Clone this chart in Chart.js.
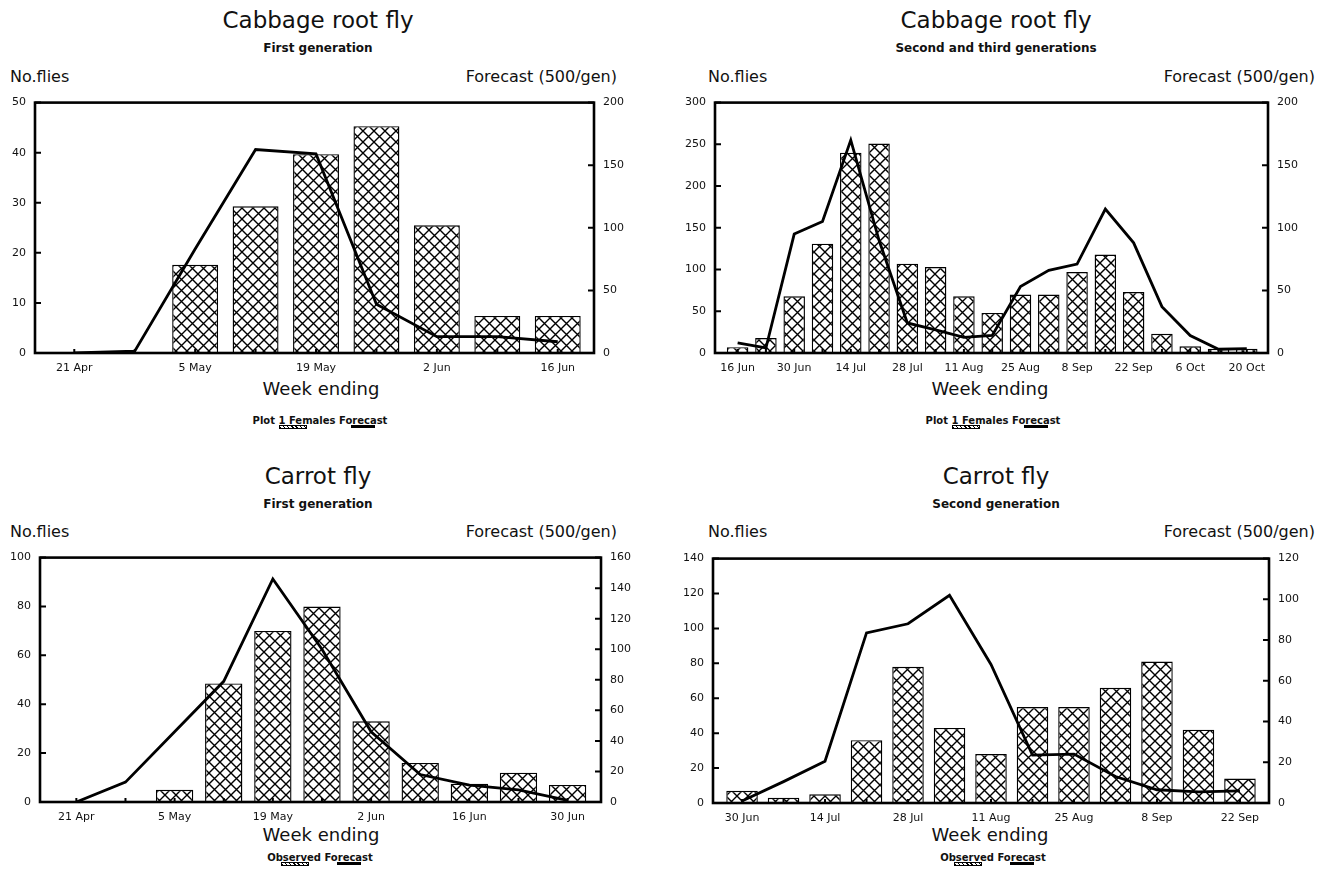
<!DOCTYPE html>
<html>
<head>
<meta charset="utf-8">
<script src="https://cdn.jsdelivr.net/npm/chart.js@4.4.0/dist/chart.umd.min.js"></script>
<style>
  html, body { margin: 0; padding: 0; background: #fff; }
  body { width: 1319px; height: 883px; position: relative; overflow: hidden;
         font-family: "DejaVu Sans", sans-serif; color: #111; }
  .t { position: absolute; line-height: 1; white-space: nowrap; }
  .title { font-size: 23px; width: 400px; text-align: center; }
  .sub { font-size: 12px; font-weight: bold; width: 400px; text-align: center; }
  .ax { font-size: 16px; }
  .xt { font-size: 18px; width: 300px; text-align: center; }
  .leg { font-size: 10px; font-weight: bold; width: 300px; text-align: center; }
  .leg span { position: relative; }
  .sw { position: absolute; top: 10px; height: 2px; }
  .sw.hatch { left: 0; width: 26px; border: 1px solid #000;
              background: repeating-linear-gradient(45deg, #000 0 1px, #fff 1px 3px); }
  .sw.line { left: 50%; width: 24px; margin-left: -12px; background: #000; height: 3px; }
  canvas { position: absolute; }
</style>
</head>
<body>

<!-- top left -->
<div class="t title" style="left:118px;top:8.5px">Cabbage root fly</div>
<div class="t sub" style="left:118px;top:42px">First generation</div>
<div class="t ax" style="left:10px;top:68.5px">No.flies</div>
<div class="t ax" style="right:702px;top:68.5px">Forecast (500/gen)</div>
<div class="t xt" style="left:171px;top:380px">Week ending</div>
<div class="t leg" style="left:170px;top:415.5px">Plot <span>1 Females<i class="sw hatch"></i></span> <span>Forecast<i class="sw line"></i></span></div>
<canvas id="c1" width="640" height="300" style="left:0;top:87px"></canvas>

<!-- top right -->
<div class="t title" style="left:796px;top:8.5px">Cabbage root fly</div>
<div class="t sub" style="left:796px;top:42px">Second and third generations</div>
<div class="t ax" style="left:708px;top:68.5px">No.flies</div>
<div class="t ax" style="right:4px;top:68.5px">Forecast (500/gen)</div>
<div class="t xt" style="left:840px;top:380px">Week ending</div>
<div class="t leg" style="left:843px;top:415.5px">Plot <span>1 Females<i class="sw hatch"></i></span> <span>Forecast<i class="sw line"></i></span></div>
<canvas id="c2" width="659" height="300" style="left:660px;top:87px"></canvas>

<!-- bottom left -->
<div class="t title" style="left:118px;top:464.5px">Carrot fly</div>
<div class="t sub" style="left:118px;top:498px">First generation</div>
<div class="t ax" style="left:10px;top:523.5px">No.flies</div>
<div class="t ax" style="right:702px;top:523.5px">Forecast (500/gen)</div>
<div class="t xt" style="left:171px;top:826px">Week ending</div>
<div class="t leg" style="left:170px;top:852.5px"><span>Observed<i class="sw hatch" style="left:50%;margin-left:-13px"></i></span> <span>Forecast<i class="sw line"></i></span></div>
<canvas id="c3" width="640" height="300" style="left:0;top:542px"></canvas>

<!-- bottom right -->
<div class="t title" style="left:796px;top:464.5px">Carrot fly</div>
<div class="t sub" style="left:796px;top:498px">Second generation</div>
<div class="t ax" style="left:708px;top:523.5px">No.flies</div>
<div class="t ax" style="right:4px;top:523.5px">Forecast (500/gen)</div>
<div class="t xt" style="left:840px;top:826px">Week ending</div>
<div class="t leg" style="left:843px;top:852.5px"><span>Observed<i class="sw hatch" style="left:50%;margin-left:-13px"></i></span> <span>Forecast<i class="sw line"></i></span></div>
<canvas id="c4" width="659" height="300" style="left:660px;top:543px"></canvas>

<script>
// Cabbage root fly, first generation
const crf1Weeks = ['21 Apr', '28 Apr', '5 May', '12 May', '19 May', '26 May', '2 Jun', '9 Jun', '16 Jun'];
const crf1Females = [0, 0, 17.6, 29.3, 39.7, 45.3, 25.5, 7.4, 7.4];
const crf1Forecast = [0, 1.5, 83, 162.5, 159, 39, 13, 13, 9];

// Cabbage root fly, second and third generations
const crf2Weeks = ['16 Jun', '23 Jun', '30 Jun', '7 Jul', '14 Jul', '21 Jul', '28 Jul', '4 Aug', '11 Aug', '18 Aug',
                   '25 Aug', '1 Sep', '8 Sep', '15 Sep', '22 Sep', '29 Sep', '6 Oct', '13 Oct', '20 Oct'];
const crf2Females = [7, 18, 68, 131, 240, 251, 107, 103, 68, 48, 70, 70, 97, 118, 73, 23, 8, 5, 5];
const crf2Forecast = [8, 4, 95, 105, 170, 90, 24, 18.5, 12.5, 14, 53, 66, 71, 115, 88, 37, 14, 3, 3.5];

// Carrot fly, first generation
const cf1Weeks = ['21 Apr', '28 Apr', '5 May', '12 May', '19 May', '26 May', '2 Jun', '9 Jun', '16 Jun', '23 Jun', '30 Jun'];
const cf1Observed = [0, 0, 5, 48.5, 70, 80, 33, 16, 7.5, 12, 7];
const cf1Forecast = [0, 13, 46, 79, 146, 100, 46, 18, 11, 8, 1];

// Carrot fly, second generation
const cf2Weeks = ['30 Jun', '7 Jul', '14 Jul', '21 Jul', '28 Jul', '4 Aug', '11 Aug', '18 Aug', '25 Aug', '1 Sep',
                  '8 Sep', '15 Sep', '22 Sep'];
const cf2Observed = [7, 3, 5, 36, 78, 43, 28, 55, 55, 66, 81, 42, 14];
const cf2Forecast = [1, 10.5, 20.5, 83.5, 88, 102, 68, 23.5, 24, 13, 6.5, 5.5, 6];

const tickFont = { family: 'DejaVu Sans', size: 11 };

function hatchTile(size) {
    const c = document.createElement('canvas');
    c.width = size;
    c.height = size;
    const g = c.getContext('2d');
    g.fillStyle = '#fff';
    g.fillRect(0, 0, size, size);
    g.strokeStyle = '#000';
    g.lineWidth = 1.4;
    g.beginPath();
    g.moveTo(-1, -1); g.lineTo(size + 1, size + 1);
    g.moveTo(size + 1, -1); g.lineTo(-1, size + 1);
    g.stroke();
    return c;
}

// box round the plot and the short inward ticks
const frame = {
    id: 'frame',
    afterDatasetsDraw(chart) {
        const { ctx, chartArea: a, scales } = chart;
        const n = chart.data.datasets[1].data.length;
        ctx.save();
        ctx.strokeStyle = '#000';
        ctx.lineWidth = 2;
        ctx.beginPath();
        scales.y.ticks.forEach(t => {
            const py = scales.y.getPixelForValue(t.value);
            ctx.moveTo(a.left, py); ctx.lineTo(a.left + 6, py);
        });
        scales.y2.ticks.forEach(t => {
            const py = scales.y2.getPixelForValue(t.value);
            ctx.moveTo(a.right - 6, py); ctx.lineTo(a.right, py);
        });
        for (let i = 0; i < n; i++) {
            const px = scales.x.getPixelForValue(i);
            ctx.moveTo(px, a.bottom); ctx.lineTo(px, a.bottom - 4);
        }
        ctx.stroke();
        ctx.lineWidth = 2.6;
        ctx.strokeRect(a.left, a.top, a.right - a.left, a.bottom - a.top);
        ctx.restore();
    }
};

function drawPanel(id, weeks, flies, forecast, o) {
    const ctx = document.getElementById(id).getContext('2d');
    const pattern = ctx.createPattern(hatchTile(11), 'repeat');
    return new Chart(ctx, {
        type: 'bar',
        data: {
            datasets: [
                {
                    type: 'line',
                    data: forecast.map((v, i) => ({ x: i, y: v })),
                    yAxisID: 'y2',
                    borderColor: '#000',
                    borderWidth: 2.8,
                    pointRadius: 0,
                    tension: 0,
                    order: 0
                },
                {
                    type: 'bar',
                    data: flies.map((v, i) => ({ x: i, y: v })),
                    yAxisID: 'y',
                    backgroundColor: pattern,
                    borderColor: '#000',
                    borderWidth: 1.4,
                    barPercentage: 0.76,
                    categoryPercentage: 1,
                    order: 1
                }
            ]
        },
        options: {
            responsive: false,
            animation: false,
            layout: { padding: { top: 10, left: 0, right: 0, bottom: 0 } },
            plugins: { legend: { display: false }, tooltip: { enabled: false } },
            scales: {
                x: {
                    type: 'linear',
                    offset: false,
                    min: o.xMin,
                    max: o.xMax,
                    grid: { display: false, drawTicks: false, offset: false },
                    border: { display: false },
                    afterBuildTicks: s => {
                        s.ticks = weeks.map((w, i) => ({ value: i })).filter(t => t.value % 2 === 0);
                    },
                    ticks: { autoSkip: false, maxRotation: 0, padding: 9, color: '#111', font: tickFont,
                             callback: v => weeks[v] },
                    afterFit: s => { s.height = o.xH; }
                },
                y: {
                    position: 'left',
                    min: 0,
                    max: o.yMax,
                    grid: { display: false, drawTicks: false },
                    border: { display: false },
                    ticks: { stepSize: o.yStep, padding: 9, color: '#111', font: tickFont },
                    afterFit: s => { s.width = o.yLW; }
                },
                y2: {
                    position: 'right',
                    min: 0,
                    max: o.y2Max,
                    grid: { display: false, drawTicks: false },
                    border: { display: false },
                    ticks: { stepSize: o.y2Step, padding: 9, color: '#111', font: tickFont },
                    afterFit: s => { s.width = o.yRW; }
                }
            }
        },
        plugins: [frame]
    });
}

drawPanel('c1', crf1Weeks, crf1Females, crf1Forecast,
    { xMin: -0.65, xMax: 8.6, yMax: 50, yStep: 10, y2Max: 200, y2Step: 50, yLW: 35, yRW: 46, xH: 34 });
drawPanel('c2', crf2Weeks, crf2Females, crf2Forecast,
    { xMin: -0.8, xMax: 18.75, yMax: 300, yStep: 50, y2Max: 200, y2Step: 50, yLW: 55, yRW: 51, xH: 34 });
drawPanel('c3', cf1Weeks, cf1Observed, cf1Forecast,
    { xMin: -0.74, xMax: 10.68, yMax: 100, yStep: 20, y2Max: 160, y2Step: 20, yLW: 40, yRW: 39, xH: 40 });
drawPanel('c4', cf2Weeks, cf2Observed, cf2Forecast,
    { xMin: -0.7, xMax: 12.7, yMax: 140, yStep: 20, y2Max: 120, y2Step: 20, yLW: 53, yRW: 50, xH: 40 });
</script>
</body>
</html>
